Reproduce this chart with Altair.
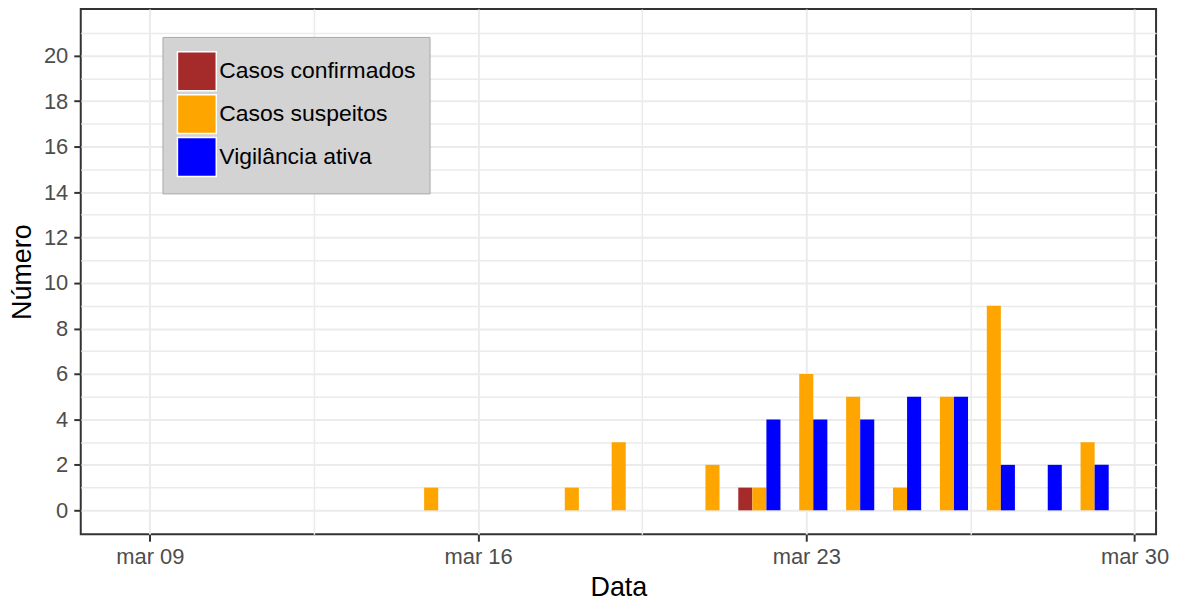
import altair as alt
import pandas as pd

# ---- data (day of March 2020) ----
series = ["Casos confirmados", "Casos suspeitos", "Vigilância ativa"]

dias_confirmados = [22]
valores_confirmados = [1]

dias_suspeitos = [15, 18, 19, 21, 22, 23, 24, 25, 26, 27, 29]
valores_suspeitos = [1, 1, 3, 2, 1, 6, 5, 1, 5, 9, 3]

dias_vigilancia = [22, 23, 24, 25, 26, 27, 28, 29]
valores_vigilancia = [4, 4, 4, 5, 5, 2, 2, 2]

cores = ["#A52A2A", "#FFA500", "#0000FF"]

x_ticks = [9, 12.5, 16, 19.5, 23, 26.5, 30]
y_ticks = list(range(0, 22))

rows = []
for d, v in zip(dias_confirmados, valores_confirmados):
    rows.append({"dia": d, "valor": v, "serie": series[0]})
for d, v in zip(dias_suspeitos, valores_suspeitos):
    rows.append({"dia": d, "valor": v, "serie": series[1]})
for d, v in zip(dias_vigilancia, valores_vigilancia):
    rows.append({"dia": d, "valor": v, "serie": series[2]})
df = pd.DataFrame(rows)

FONT = "Liberation Sans"

chart = (
    alt.Chart(df)
    .transform_calculate(
        off="datum.serie === 'Casos confirmados' ? -0.3 : (datum.serie === 'Casos suspeitos' ? 0 : 0.3)"
    )
    .transform_calculate(x0="datum.dia + datum.off - 0.15", x1="datum.dia + datum.off + 0.15")
    .mark_rect()
    .encode(
        x=alt.X(
            "x0:Q",
            title="Data",
            scale=alt.Scale(domain=[7.527, 30.46], nice=False, zero=False),
            axis=alt.Axis(
                values=x_ticks,
                labelExpr="datum.value % 1 === 0 ? 'mar ' + (datum.value < 10 ? '0' : '') + datum.value : ''",
                tickOpacity={"condition": {"test": "datum.value % 1 !== 0", "value": 0}, "value": 1},
                gridWidth={"condition": {"test": "datum.value % 1 !== 0", "value": 1.5}, "value": 2},
                labelOverlap=False,
                labelFlush=False,
                tickSize=7,
                labelPadding=5,
                titlePadding=8,
            ),
        ),
        x2="x1:Q",
        y=alt.Y(
            "valor:Q",
            title="Número",
            scale=alt.Scale(domain=[-1.05, 22.05], nice=False, zero=False),
            axis=alt.Axis(
                values=y_ticks,
                labelExpr="datum.value % 2 === 0 ? datum.label : ''",
                tickOpacity={"condition": {"test": "datum.value % 2 !== 0", "value": 0}, "value": 1},
                gridWidth={"condition": {"test": "datum.value % 2 !== 0", "value": 1.5}, "value": 2},
                labelOverlap=False,
                tickSize=7,
                labelPadding=6,
                titlePadding=7,
            ),
        ),
        y2=alt.datum(0),
        color=alt.Color(
            "serie:N",
            title=None,
            scale=alt.Scale(domain=series, range=cores),
            legend=alt.Legend(
                orient="none",
                legendX=82,
                legendY=28,
                symbolType="square",
                symbolSize=1521,
                symbolStrokeColor="white",
                symbolStrokeWidth=1.5,
                symbolOpacity=1,
                labelFontSize=23,
                labelFont=FONT,
                labelColor="#000000",
                labelOffset=2,
                labelLimit=0,
                rowPadding=-3,
                padding=14,
                fillColor="#d3d3d3",
                strokeColor="#a9a9a9",
            ),
        ),
    )
    .properties(
        width=1079,
        height=527,
        background="white",
        padding={"left": 0, "top": 0, "right": 4, "bottom": 0},
    )
    .configure_view(stroke="#333333", strokeWidth=2)
    .configure_axis(
        domain=False,
        grid=True,
        gridColor="#ebebeb",
        tickColor="#333333",
        tickWidth=2,
        labelFont=FONT,
        labelFontSize=22,
        labelColor="#4d4d4d",
        titleFont=FONT,
        titleFontSize=27,
        titleFontWeight="normal",
        titleColor="#000000",
    )
)

chart.save("out.html", embed_options={"renderer": "svg", "actions": False})
